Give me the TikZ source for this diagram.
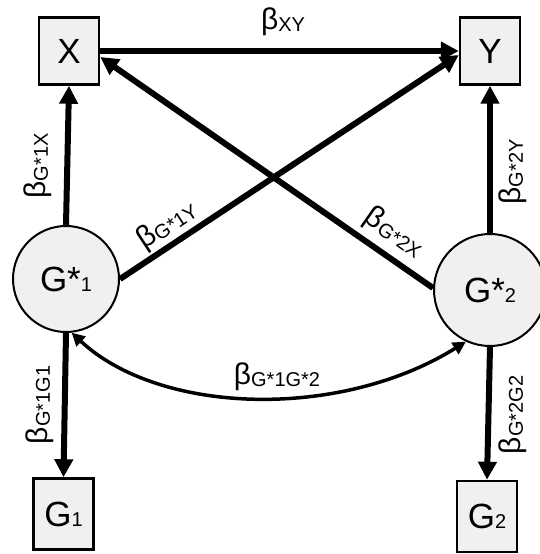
\documentclass[tikz,border=0pt]{standalone}
\usepackage{fontspec}
\setmainfont{Liberation Sans}
\usetikzlibrary{arrows.meta}
\definecolor{boxgray}{RGB}{240,240,240}
\newcommand{\sml}[1]{{\fontsize{20}{20}\selectfont #1}}
\newcommand{\blab}[1]{{\fontsize{30}{30}\selectfont β}\raisebox{-2pt}{\sml{#1}}}

\begin{document}
\begin{tikzpicture}[x=1pt, y=1pt,
  obs/.style={draw, line width=2.5pt, fill=boxgray, minimum width=60pt, minimum height=67pt, inner sep=0pt, font=\fontsize{35}{35}\selectfont},
  lat/.style={draw, circle, line width=2pt, fill=boxgray, inner sep=0pt, font=\fontsize{35}{35}\selectfont},
  reg/.style={line width=6pt, -{Triangle[length=18pt,width=18pt]}},
  cov/.style={line width=3.5pt, {Triangle[length=13pt,width=13pt]}-{Triangle[length=13pt,width=13pt]}},
  coef/.style={inner sep=0pt}]

\useasboundingbox (0,0) rectangle (539,554);

\node[obs] (X) at (69,503) {X};
\node[obs] (Y) at (490,503) {Y};
\node[obs, minimum height=71pt] (G1) at (63.5,40) {G\sml{1}};
\node[obs, minimum height=71pt] (G2) at (487,37.5) {G\sml{2}};
\node[lat, minimum size=106pt] (G1s) at (66,275) {G*\sml{1}};
\node[lat, minimum size=112pt] (G2s) at (490,264) {G*\sml{2}};

\draw[reg] (X.east) -- (Y.west);
\draw[reg] (G1s.north) -- (X.south);
\draw[reg] (G2s.north) -- (Y.south);
\draw[reg] (G1s.south) -- (G1.north);
\draw[reg] (G2s.south) -- (G2.north);
\draw[reg] (G1s.east) -- ([yshift=-4pt]Y.west);
\draw[reg] (G2s.178) -- ([yshift=-6pt]X.east);
\draw[cov] (G1s.-84) .. controls (160,139) and (340,134) .. (G2s.-115);

\node[coef] (bXY) at (283,532) {\blab{XY}};
\node[coef, rotate=90] (bG1X) at (38,388) {\blab{G*1X}};
\node[coef, rotate=90] (bG2Y) at (513,382) {\blab{G*2Y}};
\node[coef, rotate=90] (bG1G1) at (40,149) {\blab{G*1G1}};
\node[coef, rotate=90] (bG2G2) at (513,139) {\blab{G*2G2}};
\node[coef, rotate=33.5] (bG1Y) at (167,329) {\blab{G*1Y}};
\node[coef, rotate=-35] (bG2X) at (394,321) {\blab{G*2X}};
\node[coef] (bG1G2) at (277,177) {\blab{G*1G*2}};
\end{tikzpicture}
\end{document}
